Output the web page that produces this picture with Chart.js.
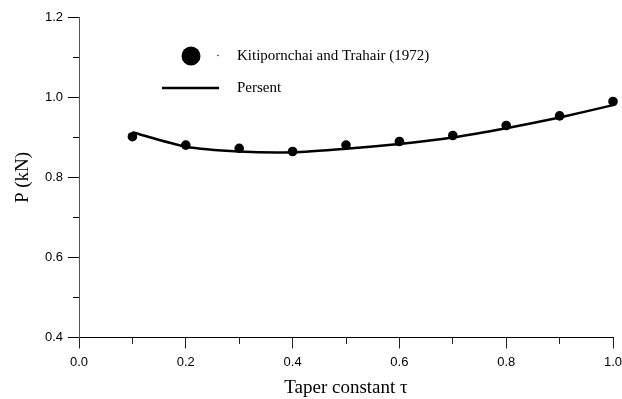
<!DOCTYPE html>
<html>
<head>
<meta charset="utf-8">
<script src="https://cdn.jsdelivr.net/npm/chart.js@4.4.1/dist/chart.umd.min.js"></script>
<style>
  html, body { margin: 0; padding: 0; background: #fff; }
  #wrap { width: 622px; height: 399px; }
</style>
</head>
<body>
<div id="wrap"><canvas id="c" width="622" height="399"></canvas></div>
<script>
// Data
const taper = [0.1, 0.2, 0.3, 0.4, 0.5, 0.6, 0.7, 0.8, 0.9, 1.0];
const kitipornchai = [0.902, 0.881, 0.873, 0.865, 0.881, 0.890, 0.905, 0.930, 0.954, 0.990];
const present = [0.913, 0.877, 0.865, 0.863, 0.872, 0.884, 0.900, 0.923, 0.950, 0.981];
const seriesLabels = ['Kitipornchai and Trahair (1972)', 'Persent'];
const xTitle = 'Taper constant \u03C4';
const yTitle = 'P (kN)';

const isMajor = v => Math.round(v * 10) % 2 === 0;

const legendPlugin = {
  id: 'customLegend',
  afterDraw(chart) {
    const ctx = chart.ctx;
    ctx.save();
    ctx.fillStyle = '#000';
    ctx.beginPath();
    ctx.arc(191, 56, 9.5, 0, Math.PI * 2);
    ctx.fill();
    ctx.beginPath();
    ctx.arc(218, 55.5, 0.7, 0, Math.PI * 2);
    ctx.fill();
    ctx.strokeStyle = '#000';
    ctx.lineWidth = 2.5;
    ctx.beginPath();
    ctx.moveTo(162, 88);
    ctx.lineTo(219, 88);
    ctx.stroke();
    ctx.font = '15px "Liberation Serif", "Times New Roman", serif';
    ctx.textBaseline = 'middle';
    ctx.textAlign = 'left';
    ctx.fillText(chart.data.datasets[0].label, 237, 56);
    ctx.fillText(chart.data.datasets[1].label, 237, 88);
    ctx.restore();
  }
};

new Chart(document.getElementById('c'), {
  type: 'scatter',
  data: {
    datasets: [
      {
        label: seriesLabels[0],
        data: taper.map((x, i) => ({x, y: kitipornchai[i]})),
        showLine: false,
        pointRadius: 4.8,
        pointBackgroundColor: '#000',
        pointBorderColor: '#000',
        pointBorderWidth: 0,
        clip: false,
        order: 1
      },
      {
        label: seriesLabels[1],
        data: taper.map((x, i) => ({x, y: present[i]})),
        showLine: true,
        borderColor: '#000',
        borderWidth: 2.5,
        pointRadius: 0,
        tension: 0.2,
        fill: false,
        clip: false,
        order: 2
      }
    ]
  },
  options: {
    responsive: false,
    animation: false,
    devicePixelRatio: 1,
    layout: { padding: { top: 17.5, right: 9, left: 0, bottom: 0 } },
    plugins: { legend: { display: false }, tooltip: { enabled: false } },
    scales: {
      x: {
        type: 'linear',
        min: 0, max: 1,
        afterFit(scale) {
          scale.height = 399 - 337.5;
          scale.paddingLeft = 0;
          scale.paddingRight = 0;
        },
        ticks: {
          stepSize: 0.1,
          autoSkip: false,
          maxRotation: 0,
          padding: 6,
          color: '#000',
          font: { family: '"Liberation Sans", Arial, sans-serif', size: 13 },
          callback: v => isMajor(v) ? v.toFixed(1) : ''
        },
        grid: {
          drawOnChartArea: false,
          drawTicks: true,
          tickLength: 11,
          tickColor: '#222',
          tickWidth: 1,
          tickBorderDash: ctx => isMajor(ctx.tick.value) ? [] : [6, 50]
        },
        border: { display: true, color: '#000', width: 1 },
        title: {
          display: true,
          text: xTitle,
          color: '#000',
          font: { family: '"Liberation Serif", "Times New Roman", serif', size: 19 },
          padding: { top: 0, bottom: 0 }
        }
      },
      y: {
        type: 'linear',
        min: 0.4, max: 1.2,
        afterFit(scale) {
          scale.width = 79;
          scale.paddingTop = 0;
          scale.paddingBottom = 0;
        },
        ticks: {
          stepSize: 0.1,
          autoSkip: false,
          padding: 5,
          color: '#000',
          font: { family: '"Liberation Sans", Arial, sans-serif', size: 13 },
          callback: v => isMajor(v) ? v.toFixed(1) : ''
        },
        grid: {
          drawOnChartArea: false,
          drawTicks: true,
          tickLength: 11,
          tickColor: '#000',
          tickWidth: 1,
          tickBorderDash: ctx => isMajor(ctx.tick.value) ? [] : [0, 5, 6, 50]
        },
        border: { display: true, color: '#555', width: 1 },
        title: {
          display: true,
          text: yTitle,
          color: '#000',
          font: { family: '"Liberation Serif", "Times New Roman", serif', size: 19 },
          padding: { top: 12, bottom: 0 }
        }
      }
    }
  },
  plugins: [legendPlugin]
});
</script>
</body>
</html>
